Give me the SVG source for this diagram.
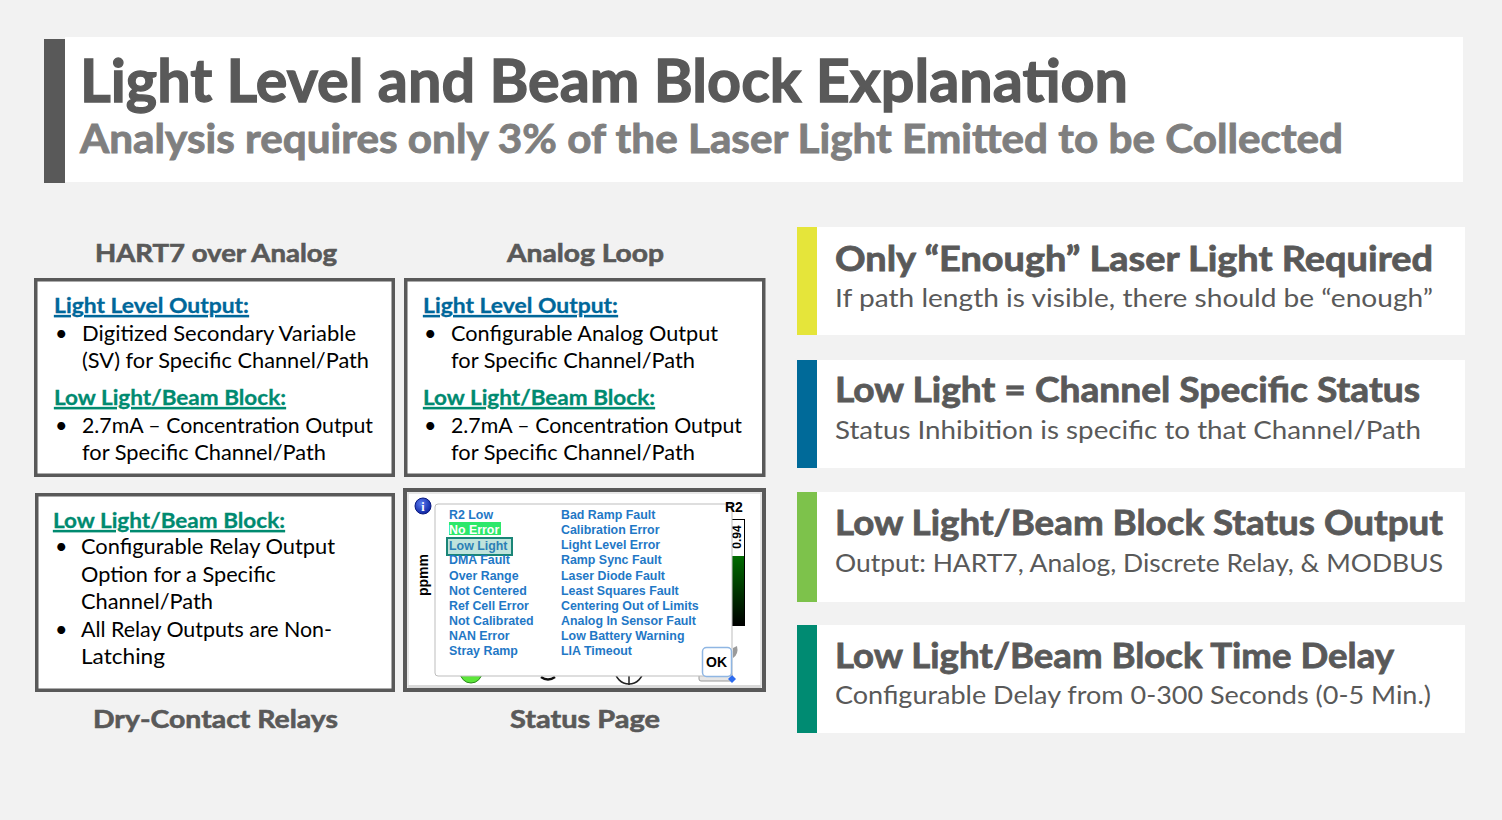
<svg xmlns="http://www.w3.org/2000/svg" width="1502" height="820" viewBox="0 0 1502 820">
<defs>
<style>
.t{font-family:Lato,"Open Sans","Noto Sans",sans-serif}
.title{font-weight:700;font-size:60px;fill:#595959;stroke:#595959;stroke-width:1.3px}
.sub{font-weight:700;font-size:40px;fill:#7f7f7f;stroke:#7f7f7f;stroke-width:0.9px}
.lbl{font-weight:700;font-size:25px;fill:#595959;stroke:#595959;stroke-width:0.6px}
.hb{font-weight:700;font-size:21.5px;fill:#00679a;stroke:#00679a;stroke-width:0.3px;text-decoration:underline}
.ht{font-weight:700;font-size:21.5px;fill:#008a70;stroke:#008a70;stroke-width:0.3px;text-decoration:underline}
.body{font-size:21.5px;fill:#000}
.ph{font-weight:700;font-size:35px;fill:#595959;stroke:#595959;stroke-width:0.8px}
.ps{font-size:25px;fill:#595959}
.box{fill:#fff;stroke:#595959;stroke-width:3.5}
.panel{fill:#fff}
.d{font-family:"Liberation Sans",Arial,sans-serif;font-weight:700;font-size:12.4px;fill:#1f78c6}
.k{font-family:"Liberation Sans",Arial,sans-serif;font-weight:700;fill:#000}
</style>
<radialGradient id="infoG" cx="0.4" cy="0.35" r="0.7">
<stop offset="0" stop-color="#5a7cf0"/>
<stop offset="1" stop-color="#0a1f9e"/>
</radialGradient>
<linearGradient id="barG" x1="0" y1="0" x2="0" y2="1">
<stop offset="0" stop-color="#006b00"/>
<stop offset="1" stop-color="#000"/>
</linearGradient>
</defs>
<rect x="0" y="0" width="1502" height="820" fill="#f2f2f2"/>

<g id="title">
<rect x="65" y="37" width="1398" height="145" fill="#fff"/>
<rect x="44" y="39" width="21" height="144" fill="#595959"/>
<text class="t title" x="80" y="102" textLength="1048" lengthAdjust="spacingAndGlyphs">Light Level and Beam Block Explanation</text>
<text class="t sub" x="80" y="153" textLength="1263" lengthAdjust="spacingAndGlyphs">Analysis requires only 3% of the Laser Light Emitted to be Collected</text>
</g>

<g id="hart7">
<text class="t lbl" x="216" y="262" text-anchor="middle" textLength="242" lengthAdjust="spacingAndGlyphs">HART7 over Analog</text>
<rect class="box" x="35.75" y="279.75" width="357.5" height="195.5"/>
<text class="t hb" x="54" y="313" textLength="195" lengthAdjust="spacingAndGlyphs">Light Level Output:</text>
<text class="t body" x="55" y="341">•</text>
<text class="t body" x="82" y="341" textLength="274" lengthAdjust="spacingAndGlyphs">Digitized Secondary Variable</text>
<text class="t body" x="82" y="368" textLength="287" lengthAdjust="spacingAndGlyphs">(SV) for Specific Channel/Path</text>
<text class="t ht" x="54" y="405" textLength="232" lengthAdjust="spacingAndGlyphs">Low Light/Beam Block:</text>
<text class="t body" x="55" y="433">•</text>
<text class="t body" x="82" y="433" textLength="291" lengthAdjust="spacingAndGlyphs">2.7mA – Concentration Output</text>
<text class="t body" x="82" y="460" textLength="244" lengthAdjust="spacingAndGlyphs">for Specific Channel/Path</text>
</g>

<g id="analog-loop">
<text class="t lbl" x="585.5" y="262" text-anchor="middle" textLength="157" lengthAdjust="spacingAndGlyphs">Analog Loop</text>
<rect class="box" x="405.75" y="279.75" width="358" height="195.5"/>
<text class="t hb" x="423" y="313" textLength="195" lengthAdjust="spacingAndGlyphs">Light Level Output:</text>
<text class="t body" x="424" y="341">•</text>
<text class="t body" x="451" y="341" textLength="267" lengthAdjust="spacingAndGlyphs">Configurable Analog Output</text>
<text class="t body" x="451" y="368" textLength="244" lengthAdjust="spacingAndGlyphs">for Specific Channel/Path</text>
<text class="t ht" x="423" y="405" textLength="232" lengthAdjust="spacingAndGlyphs">Low Light/Beam Block:</text>
<text class="t body" x="424" y="433">•</text>
<text class="t body" x="451" y="433" textLength="291" lengthAdjust="spacingAndGlyphs">2.7mA – Concentration Output</text>
<text class="t body" x="451" y="460" textLength="244" lengthAdjust="spacingAndGlyphs">for Specific Channel/Path</text>
</g>

<g id="dry-contact">
<rect class="box" x="36.75" y="494.75" width="356.5" height="195.5"/>
<text class="t ht" x="53" y="528" textLength="232" lengthAdjust="spacingAndGlyphs">Low Light/Beam Block:</text>
<text class="t body" x="55" y="554">•</text>
<text class="t body" x="81" y="554" textLength="254" lengthAdjust="spacingAndGlyphs">Configurable Relay Output</text>
<text class="t body" x="81" y="582" textLength="195" lengthAdjust="spacingAndGlyphs">Option for a Specific</text>
<text class="t body" x="81" y="609" textLength="132" lengthAdjust="spacingAndGlyphs">Channel/Path</text>
<text class="t body" x="55" y="637">•</text>
<text class="t body" x="81" y="637" textLength="251" lengthAdjust="spacingAndGlyphs">All Relay Outputs are Non-</text>
<text class="t body" x="81" y="664" textLength="84" lengthAdjust="spacingAndGlyphs">Latching</text>
<text class="t lbl" x="215.5" y="728" text-anchor="middle" textLength="245" lengthAdjust="spacingAndGlyphs">Dry-Contact Relays</text>
</g>

<g id="status-page">
<rect x="405" y="490" width="359" height="200" fill="#fff" stroke="#595959" stroke-width="4"/>
<rect x="408" y="493" width="353" height="194" fill="none" stroke="#e0e0e0" stroke-width="1.5"/>
<rect x="408" y="685" width="353" height="3" fill="#d9d9d9"/>
<rect x="729.5" y="519.5" width="15" height="106" fill="#fff" stroke="#000" stroke-width="1"/>
<rect x="730" y="556" width="14" height="69.5" fill="url(#barG)"/>
<text class="k" font-size="12" transform="translate(741,537) rotate(-90)" text-anchor="middle">0.94</text>
<circle cx="423" cy="506" r="8" fill="url(#infoG)" stroke="#0a1a80" stroke-width="1"/>
<text x="423" y="510.5" text-anchor="middle" font-family="'Liberation Serif',serif" font-weight="700" font-size="12" fill="#fff">i</text>
<text class="k" font-size="14" transform="translate(428,575) rotate(-90)" text-anchor="middle">ppmm</text>
<circle cx="471" cy="672" r="11" fill="#5ce63a" stroke="#2a8a1a" stroke-width="1"/>
<path d="M541 677 Q548 682 555 677" fill="none" stroke="#111" stroke-width="2.5"/>
<circle cx="629" cy="670" r="14" fill="#fff" stroke="#222" stroke-width="1.5"/>
<line x1="629" y1="670" x2="629" y2="685" stroke="#222" stroke-width="1.5"/>
<rect x="699" y="672" width="33" height="9" rx="2" fill="#e6e6e6" stroke="#9a9a9a" stroke-width="1"/>
<path d="M732 675 L736 679 L732 683 L728 679 Z" fill="#2c6cf0"/>
<path d="M733 658 Q739 654 737 646 L733 648 Z" fill="#9a9a9a"/>
<rect x="435" y="504" width="297" height="172" rx="3" fill="#fff" stroke="#bdbdbd" stroke-width="1"/>
<text class="k" x="725" y="512" font-size="14">R2</text>
<rect x="449" y="522" width="52" height="13" fill="#2de86b"/>
<rect x="447" y="538" width="65" height="17" fill="#bfe3dc" stroke="#1a8577" stroke-width="2"/>
<text class="d" x="449" y="518.7">R2 Low</text>
<text class="d" x="449" y="533.9" style="fill:#fff">No Error</text>
<text class="d" x="449" y="549.7" style="fill:#2b7fb5">Low Light</text>
<text class="d" x="449" y="564.2">DMA Fault</text>
<text class="d" x="449" y="579.7">Over Range</text>
<text class="d" x="449" y="594.8">Not Centered</text>
<text class="d" x="449" y="610">Ref Cell Error</text>
<text class="d" x="449" y="625.2">Not Calibrated</text>
<text class="d" x="449" y="640.3">NAN Error</text>
<text class="d" x="449" y="655.3">Stray Ramp</text>
<text class="d" x="561" y="518.7">Bad Ramp Fault</text>
<text class="d" x="561" y="533.9">Calibration Error</text>
<text class="d" x="561" y="549.1">Light Level Error</text>
<text class="d" x="561" y="564.2">Ramp Sync Fault</text>
<text class="d" x="561" y="579.7">Laser Diode Fault</text>
<text class="d" x="561" y="594.8">Least Squares Fault</text>
<text class="d" x="561" y="610">Centering Out of Limits</text>
<text class="d" x="561" y="625.2">Analog In Sensor Fault</text>
<text class="d" x="561" y="640.3">Low Battery Warning</text>
<text class="d" x="561" y="655.3">LIA Timeout</text>
<rect x="702.5" y="647.5" width="29" height="29" rx="4" fill="#fff" stroke="#8fb6e3" stroke-width="1.5"/>
<text class="k" x="716.5" y="667" font-size="14" text-anchor="middle">OK</text>
<text class="t lbl" x="585" y="728" text-anchor="middle" textLength="150" lengthAdjust="spacingAndGlyphs">Status Page</text>
</g>

<g id="panel-enough">
<rect class="panel" x="817" y="227" width="648" height="108"/>
<rect x="797" y="227" width="20" height="108" fill="#e5e53a"/>
<text class="t ph" x="835" y="271" textLength="598" lengthAdjust="spacingAndGlyphs">Only “Enough” Laser Light Required</text>
<text class="t ps" x="835" y="307" textLength="598" lengthAdjust="spacingAndGlyphs">If path length is visible, there should be “enough”</text>
</g>

<g id="panel-channel">
<rect class="panel" x="817" y="360" width="648" height="108"/>
<rect x="797" y="360" width="20" height="108" fill="#006a99"/>
<text class="t ph" x="835" y="402" textLength="585" lengthAdjust="spacingAndGlyphs">Low Light = Channel Specific Status</text>
<text class="t ps" x="835" y="439" textLength="586" lengthAdjust="spacingAndGlyphs">Status Inhibition is specific to that Channel/Path</text>
</g>

<g id="panel-output">
<rect class="panel" x="817" y="492" width="648" height="110"/>
<rect x="797" y="492" width="20" height="110" fill="#7dc24b"/>
<text class="t ph" x="835" y="535" textLength="608" lengthAdjust="spacingAndGlyphs">Low Light/Beam Block Status Output</text>
<text class="t ps" x="835" y="572" textLength="608" lengthAdjust="spacingAndGlyphs">Output: HART7, Analog, Discrete Relay, &amp; MODBUS</text>
</g>

<g id="panel-delay">
<rect class="panel" x="817" y="625" width="648" height="108"/>
<rect x="797" y="625" width="20" height="108" fill="#008b72"/>
<text class="t ph" x="835" y="668" textLength="559" lengthAdjust="spacingAndGlyphs">Low Light/Beam Block Time Delay</text>
<text class="t ps" x="835" y="704" textLength="596" lengthAdjust="spacingAndGlyphs">Configurable Delay from 0-300 Seconds (0-5 Min.)</text>
</g>

<g id="connectors"/>
</svg>
